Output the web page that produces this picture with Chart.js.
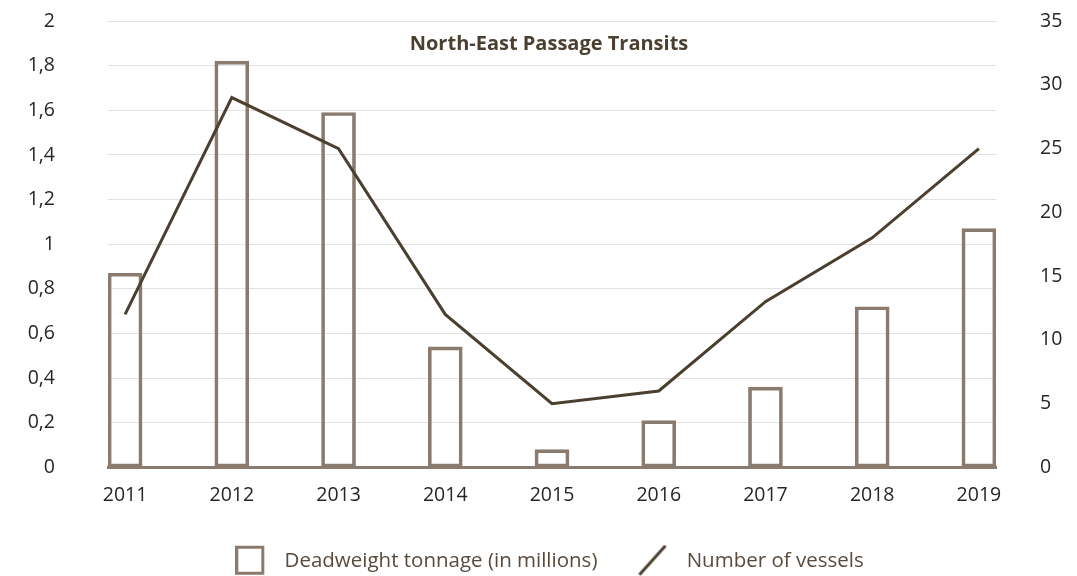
<!DOCTYPE html>
<html>
<head>
<meta charset="utf-8">
<script src="https://cdn.jsdelivr.net/npm/chart.js@4.4.0/dist/chart.umd.min.js"></script>
<style>
  html, body { margin: 0; padding: 0; background: #fff; }
  #wrap { width: 1077px; height: 576px; }
</style>
</head>
<body>
<div id="wrap"><canvas id="chart"></canvas></div>
<script>
    // Values
    const years = [2011, 2012, 2013, 2014, 2015, 2016, 2017, 2018, 2019];
    const tonnage = [0.87, 1.82, 1.59, 0.54, 0.08, 0.21, 0.36, 0.72, 1.07];
    const vessels = [12, 29, 25, 12, 5, 6, 13, 18, 25];
    const leftTicks = [0, 0.2, 0.4, 0.6, 0.8, 1, 1.2, 1.4, 1.6, 1.8, 2];
    const rightTicks = [0, 5, 10, 15, 20, 25, 30, 35];

    const barColor = "#8b7b6e";
    const lineColor = "#4b3f2f";
    const tickColor = "#262626";
    const font = "'Open Sans', 'DejaVu Sans', sans-serif";

    // legend icons: square outline and a slanted line, drawn on small canvases
    function legendIcon(kind) {
        const c = document.createElement("canvas");
        c.width = 39;
        c.height = 32;
        const g = c.getContext("2d");
        g.lineWidth = 3;
        if (kind === "bar") {
            g.strokeStyle = barColor;
            g.strokeRect(1.5, 2.5, 26, 26);
        } else {
            g.strokeStyle = lineColor;
            g.beginPath();
            g.moveTo(2, 30);
            g.lineTo(28, 1);
            g.stroke();
        }
        return c;
    }
    const barIcon = legendIcon("bar");
    const lineIcon = legendIcon("line");

    // Title sits inside the plot area
    const titlePlugin = {
        id: "innerTitle",
        afterDraw(chart) {
            const area = chart.chartArea;
            const c = chart.ctx;
            c.save();
            c.font = "bold 20px " + font;
            c.fillStyle = lineColor;
            c.textAlign = "center";
            c.textBaseline = "middle";
            c.fillText("North-East Passage Transits", (area.left + area.right) / 2 - 3, area.top + 23);
            c.restore();
        }
    };

    const ctx = document.getElementById("chart").getContext("2d");
    new Chart(ctx, {
        type: "bar",
        data: {
            datasets: [{
                type: "bar",
                label: "Deadweight tonnage (in millions)",
                data: years.map((y, i) => ({ x: y, y: tonnage[i] })),
                backgroundColor: "rgba(0,0,0,0)",
                borderColor: barColor,
                borderWidth: 3,
                borderSkipped: false,
                barThickness: 34,
                yAxisID: "y",
                order: 2
            }, {
                type: "line",
                label: "Number of vessels",
                data: years.map((y, i) => ({ x: y, y: vessels[i] })),
                borderColor: lineColor,
                borderWidth: 3,
                pointRadius: 0,
                tension: 0,
                fill: false,
                yAxisID: "y1",
                order: 1
            }]
        },
        options: {
            responsive: true,
            maintainAspectRatio: false,
            animation: false,
            layout: { padding: { top: 21, left: 22, right: 0, bottom: -5 } },
            plugins: {
                tooltip: { enabled: false },
                legend: {
                    position: "bottom",
                    labels: {
                        usePointStyle: true,
                        pointStyleWidth: 39,
                        padding: 40,
                        color: "#594a3c",
                        font: { family: font, size: 20.5 },
                        sort: (a, b) => a.datasetIndex - b.datasetIndex,
                        generateLabels(chart) {
                            const items = Chart.defaults.plugins.legend.labels.generateLabels(chart);
                            items.forEach(item => {
                                item.pointStyle = item.datasetIndex === 0 ? barIcon : lineIcon;
                                item.rotation = 0;
                            });
                            return items;
                        }
                    }
                }
            },
            scales: {
                x: {
                    type: "linear",
                    offset: false,
                    min: years[0] - 0.16,
                    max: years[years.length - 1] + 0.16,
                    afterBuildTicks(scale) {
                        scale.ticks = years.map(v => ({ value: v }));
                    },
                    afterFit(scale) { scale.height = 43; },
                    ticks: {
                        padding: 16,
                        color: tickColor,
                        font: { family: font, size: 19.5 },
                        callback: v => String(v)
                    },
                    grid: { display: false, drawTicks: false },
                    border: { display: true, color: barColor, width: 3 }
                },
                y: {
                    position: "left",
                    min: 0,
                    max: 2,
                    afterBuildTicks(scale) {
                        scale.ticks = leftTicks.map(v => ({ value: v }));
                    },
                    afterFit(scale) {
                        scale.width = 86;
                        scale.paddingTop = 11;
                        scale.paddingBottom = 11;
                    },
                    ticks: {
                        padding: 53,
                        color: tickColor,
                        font: { family: font, size: 19.5 },
                        callback: v => String(Math.round(v * 10) / 10).replace(".", ",")
                    },
                    grid: { color: "#e2e2e2", lineWidth: 1, drawTicks: false },
                    border: { display: false }
                },
                y1: {
                    position: "right",
                    min: 0,
                    max: 35,
                    afterBuildTicks(scale) {
                        scale.ticks = rightTicks.map(v => ({ value: v }));
                    },
                    afterFit(scale) {
                        scale.width = 81;
                        scale.paddingTop = 11;
                        scale.paddingBottom = 11;
                    },
                    ticks: {
                        padding: 44,
                        color: tickColor,
                        font: { family: font, size: 19.5 }
                    },
                    grid: { display: false, drawTicks: false },
                    border: { display: false }
                }
            }
        },
        plugins: [titlePlugin]
    });
</script>
</body>
</html>
